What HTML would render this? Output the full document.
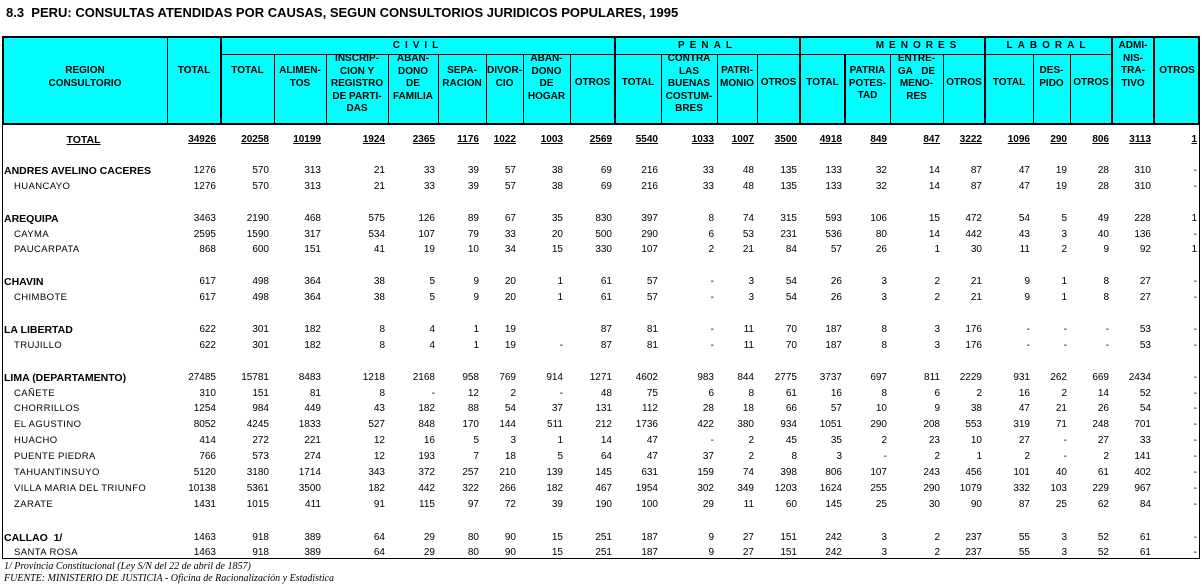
<!DOCTYPE html>
<html><head><meta charset="utf-8"><style>
*{margin:0;padding:0;box-sizing:border-box}
body{width:1203px;height:588px;background:#fff;position:relative;overflow:hidden;font-family:"Liberation Sans",Arial,sans-serif;color:#000}
.t{position:absolute;left:6px;top:5px;font-size:13px;font-weight:bold;white-space:nowrap;letter-spacing:0px}
.hd{position:absolute;left:2px;top:36px;width:1198px;height:89px;background:#0ff;border:2px solid #000}
.v{position:absolute;background:#000;width:1px}
.vt{width:2px}
.h{position:absolute;background:#000;height:1px}
.c{position:absolute;text-align:center;font-weight:bold;font-size:10px;line-height:12.5px;white-space:nowrap}
.g{position:absolute;top:37px;height:17px;display:flex;align-items:center;justify-content:center;font-weight:bold;font-size:10px;letter-spacing:5px}
.r{position:absolute;left:3px;height:16px;display:grid;grid-template-columns:164px 54px 53px 52px 62px 50px 48px 37px 47px 45px 46px 56px 40px 43px 45px 45px 53px 42px 48px 37px 42px 42px 46px;font-size:10px;line-height:16px}
.r span{text-align:right;padding-right:3px;white-space:nowrap}
.r span:first-child{text-align:left;padding-left:11px;font-size:9.5px;letter-spacing:0.4px}
.r span:nth-child(2),.r span:nth-child(3),.r span:nth-child(4){padding-right:5px}
.r span:nth-child(7),.r span:nth-child(8),.r span:nth-child(9){padding-right:7px}
.b span:first-child{padding-left:1px;font-weight:bold;font-size:10.5px;letter-spacing:0}
.tot{font-weight:bold}
.tot span{text-decoration:underline}
.tot span:first-child{text-align:center;padding-left:0;font-size:10.5px;letter-spacing:0}
.f{position:absolute;left:4px;font-family:"Liberation Serif",serif;font-style:italic;font-size:10px;white-space:nowrap}
</style></head><body>
<div class="t">8.3&nbsp; PERU: CONSULTAS ATENDIDAS POR CAUSAS, SEGUN CONSULTORIOS JURIDICOS POPULARES, 1995</div>
<div class="hd"></div>
<div class="h" style="left:221px;top:54px;width:891px"></div>
<div class="v" style="left:167px;top:36px;height:89px"></div>
<div class="v vt" style="left:220px;top:36px;height:89px"></div>
<div class="v vt" style="left:614px;top:36px;height:89px"></div>
<div class="v vt" style="left:799px;top:36px;height:89px"></div>
<div class="v vt" style="left:984px;top:36px;height:89px"></div>
<div class="v vt" style="left:1111px;top:36px;height:89px"></div>
<div class="v vt" style="left:1153px;top:36px;height:89px"></div>
<div class="v" style="left:274px;top:54px;height:70px"></div>
<div class="v" style="left:326px;top:54px;height:70px"></div>
<div class="v" style="left:388px;top:54px;height:70px"></div>
<div class="v" style="left:438px;top:54px;height:70px"></div>
<div class="v" style="left:486px;top:54px;height:70px"></div>
<div class="v" style="left:523px;top:54px;height:70px"></div>
<div class="v" style="left:570px;top:54px;height:70px"></div>
<div class="v" style="left:661px;top:54px;height:70px"></div>
<div class="v" style="left:717px;top:54px;height:70px"></div>
<div class="v" style="left:757px;top:54px;height:70px"></div>
<div class="v vt" style="left:844px;top:54px;height:70px"></div>
<div class="v" style="left:890px;top:54px;height:70px"></div>
<div class="v" style="left:943px;top:54px;height:70px"></div>
<div class="v" style="left:1033px;top:54px;height:70px"></div>
<div class="v" style="left:1070px;top:54px;height:70px"></div>

<div class="g" style="left:221px;width:394px">CIVIL</div>
<div class="g" style="left:615px;width:185px">PENAL</div>
<div class="g" style="left:800px;width:185px;padding-left:52px">MENORES</div>
<div class="g" style="left:985px;width:127px">LABORAL</div>

<div class="c" style="left:3px;top:65px;width:164px">REGION<br>CONSULTORIO</div>
<div class="c" style="left:167px;top:65px;width:54px">TOTAL</div>
<div class="c" style="left:221px;top:65px;width:53px">TOTAL</div>
<div class="c" style="left:274px;top:65px;width:52px">ALIMEN-<br>TOS</div>
<div class="c" style="left:326px;top:53px;width:62px">INSCRIP-<br>CION Y<br>REGISTRO<br>DE PARTI-<br>DAS</div>
<div class="c" style="left:388px;top:53px;width:50px">ABAN-<br>DONO<br>DE<br>FAMILIA</div>
<div class="c" style="left:438px;top:65px;width:48px">SEPA-<br>RACION</div>
<div class="c" style="left:486px;top:65px;width:37px">DIVOR-<br>CIO</div>
<div class="c" style="left:523px;top:53px;width:47px">ABAN-<br>DONO<br>DE<br>HOGAR</div>
<div class="c" style="left:570px;top:77px;width:45px">OTROS</div>
<div class="c" style="left:615px;top:77px;width:46px">TOTAL</div>
<div class="c" style="left:661px;top:53px;width:56px">CONTRA<br>LAS<br>BUENAS<br>COSTUM-<br>BRES</div>
<div class="c" style="left:717px;top:65px;width:40px">PATRI-<br>MONIO</div>
<div class="c" style="left:757px;top:77px;width:43px">OTROS</div>
<div class="c" style="left:800px;top:77px;width:45px">TOTAL</div>
<div class="c" style="left:845px;top:65px;width:45px">PATRIA<br>POTES-<br>TAD</div>
<div class="c" style="left:890px;top:53px;width:53px">ENTRE-<br>GA&nbsp;&nbsp;&nbsp;DE<br>MENO-<br>RES</div>
<div class="c" style="left:943px;top:77px;width:42px">OTROS</div>
<div class="c" style="left:985px;top:77px;width:48px">TOTAL</div>
<div class="c" style="left:1033px;top:65px;width:37px">DES-<br>PIDO</div>
<div class="c" style="left:1070px;top:77px;width:42px">OTROS</div>
<div class="c" style="left:1112px;top:40px;width:42px">ADMI-<br>NIS-<br>TRA-<br>TIVO</div>
<div class="c" style="left:1154px;top:65px;width:46px">OTROS</div>

<div class="v" style="left:2px;top:124px;height:435px"></div>
<div class="v" style="left:1199px;top:124px;height:435px"></div>
<div class="h" style="left:2px;top:558px;width:1198px"></div>

<div class="r tot" style="top:132px"><span>TOTAL</span><span>34926</span><span>20258</span><span>10199</span><span>1924</span><span>2365</span><span>1176</span><span>1022</span><span>1003</span><span>2569</span><span>5540</span><span>1033</span><span>1007</span><span>3500</span><span>4918</span><span>849</span><span>847</span><span>3222</span><span>1096</span><span>290</span><span>806</span><span>3113</span><span>1</span></div>
<div class="r b" style="top:163px"><span>ANDRES AVELINO CACERES</span><span>1276</span><span>570</span><span>313</span><span>21</span><span>33</span><span>39</span><span>57</span><span>38</span><span>69</span><span>216</span><span>33</span><span>48</span><span>135</span><span>133</span><span>32</span><span>14</span><span>87</span><span>47</span><span>19</span><span>28</span><span>310</span><span>-</span></div>
<div class="r" style="top:179px"><span>HUANCAYO</span><span>1276</span><span>570</span><span>313</span><span>21</span><span>33</span><span>39</span><span>57</span><span>38</span><span>69</span><span>216</span><span>33</span><span>48</span><span>135</span><span>133</span><span>32</span><span>14</span><span>87</span><span>47</span><span>19</span><span>28</span><span>310</span><span>-</span></div>
<div class="r b" style="top:211px"><span>AREQUIPA</span><span>3463</span><span>2190</span><span>468</span><span>575</span><span>126</span><span>89</span><span>67</span><span>35</span><span>830</span><span>397</span><span>8</span><span>74</span><span>315</span><span>593</span><span>106</span><span>15</span><span>472</span><span>54</span><span>5</span><span>49</span><span>228</span><span>1</span></div>
<div class="r" style="top:227px"><span>CAYMA</span><span>2595</span><span>1590</span><span>317</span><span>534</span><span>107</span><span>79</span><span>33</span><span>20</span><span>500</span><span>290</span><span>6</span><span>53</span><span>231</span><span>536</span><span>80</span><span>14</span><span>442</span><span>43</span><span>3</span><span>40</span><span>136</span><span>-</span></div>
<div class="r" style="top:242px"><span>PAUCARPATA</span><span>868</span><span>600</span><span>151</span><span>41</span><span>19</span><span>10</span><span>34</span><span>15</span><span>330</span><span>107</span><span>2</span><span>21</span><span>84</span><span>57</span><span>26</span><span>1</span><span>30</span><span>11</span><span>2</span><span>9</span><span>92</span><span>1</span></div>
<div class="r b" style="top:274px"><span>CHAVIN</span><span>617</span><span>498</span><span>364</span><span>38</span><span>5</span><span>9</span><span>20</span><span>1</span><span>61</span><span>57</span><span>-</span><span>3</span><span>54</span><span>26</span><span>3</span><span>2</span><span>21</span><span>9</span><span>1</span><span>8</span><span>27</span><span>-</span></div>
<div class="r" style="top:290px"><span>CHIMBOTE</span><span>617</span><span>498</span><span>364</span><span>38</span><span>5</span><span>9</span><span>20</span><span>1</span><span>61</span><span>57</span><span>-</span><span>3</span><span>54</span><span>26</span><span>3</span><span>2</span><span>21</span><span>9</span><span>1</span><span>8</span><span>27</span><span>-</span></div>
<div class="r b" style="top:322px"><span>LA LIBERTAD</span><span>622</span><span>301</span><span>182</span><span>8</span><span>4</span><span>1</span><span>19</span><span></span><span>87</span><span>81</span><span>-</span><span>11</span><span>70</span><span>187</span><span>8</span><span>3</span><span>176</span><span>-</span><span>-</span><span>-</span><span>53</span><span>-</span></div>
<div class="r" style="top:338px"><span>TRUJILLO</span><span>622</span><span>301</span><span>182</span><span>8</span><span>4</span><span>1</span><span>19</span><span>-</span><span>87</span><span>81</span><span>-</span><span>11</span><span>70</span><span>187</span><span>8</span><span>3</span><span>176</span><span>-</span><span>-</span><span>-</span><span>53</span><span>-</span></div>
<div class="r b" style="top:370px"><span>LIMA (DEPARTAMENTO)</span><span>27485</span><span>15781</span><span>8483</span><span>1218</span><span>2168</span><span>958</span><span>769</span><span>914</span><span>1271</span><span>4602</span><span>983</span><span>844</span><span>2775</span><span>3737</span><span>697</span><span>811</span><span>2229</span><span>931</span><span>262</span><span>669</span><span>2434</span><span>-</span></div>
<div class="r" style="top:386px"><span>CAÑETE</span><span>310</span><span>151</span><span>81</span><span>8</span><span>-</span><span>12</span><span>2</span><span>-</span><span>48</span><span>75</span><span>6</span><span>8</span><span>61</span><span>16</span><span>8</span><span>6</span><span>2</span><span>16</span><span>2</span><span>14</span><span>52</span><span>-</span></div>
<div class="r" style="top:401px"><span>CHORRILLOS</span><span>1254</span><span>984</span><span>449</span><span>43</span><span>182</span><span>88</span><span>54</span><span>37</span><span>131</span><span>112</span><span>28</span><span>18</span><span>66</span><span>57</span><span>10</span><span>9</span><span>38</span><span>47</span><span>21</span><span>26</span><span>54</span><span>-</span></div>
<div class="r" style="top:417px"><span>EL AGUSTINO</span><span>8052</span><span>4245</span><span>1833</span><span>527</span><span>848</span><span>170</span><span>144</span><span>511</span><span>212</span><span>1736</span><span>422</span><span>380</span><span>934</span><span>1051</span><span>290</span><span>208</span><span>553</span><span>319</span><span>71</span><span>248</span><span>701</span><span>-</span></div>
<div class="r" style="top:433px"><span>HUACHO</span><span>414</span><span>272</span><span>221</span><span>12</span><span>16</span><span>5</span><span>3</span><span>1</span><span>14</span><span>47</span><span>-</span><span>2</span><span>45</span><span>35</span><span>2</span><span>23</span><span>10</span><span>27</span><span>-</span><span>27</span><span>33</span><span>-</span></div>
<div class="r" style="top:449px"><span>PUENTE PIEDRA</span><span>766</span><span>573</span><span>274</span><span>12</span><span>193</span><span>7</span><span>18</span><span>5</span><span>64</span><span>47</span><span>37</span><span>2</span><span>8</span><span>3</span><span>-</span><span>2</span><span>1</span><span>2</span><span>-</span><span>2</span><span>141</span><span>-</span></div>
<div class="r" style="top:465px"><span>TAHUANTINSUYO</span><span>5120</span><span>3180</span><span>1714</span><span>343</span><span>372</span><span>257</span><span>210</span><span>139</span><span>145</span><span>631</span><span>159</span><span>74</span><span>398</span><span>806</span><span>107</span><span>243</span><span>456</span><span>101</span><span>40</span><span>61</span><span>402</span><span>-</span></div>
<div class="r" style="top:481px"><span>VILLA MARIA DEL TRIUNFO</span><span>10138</span><span>5361</span><span>3500</span><span>182</span><span>442</span><span>322</span><span>266</span><span>182</span><span>467</span><span>1954</span><span>302</span><span>349</span><span>1203</span><span>1624</span><span>255</span><span>290</span><span>1079</span><span>332</span><span>103</span><span>229</span><span>967</span><span>-</span></div>
<div class="r" style="top:497px"><span>ZARATE</span><span>1431</span><span>1015</span><span>411</span><span>91</span><span>115</span><span>97</span><span>72</span><span>39</span><span>190</span><span>100</span><span>29</span><span>11</span><span>60</span><span>145</span><span>25</span><span>30</span><span>90</span><span>87</span><span>25</span><span>62</span><span>84</span><span>-</span></div>
<div class="r b" style="top:530px"><span>CALLAO&nbsp; 1/</span><span>1463</span><span>918</span><span>389</span><span>64</span><span>29</span><span>80</span><span>90</span><span>15</span><span>251</span><span>187</span><span>9</span><span>27</span><span>151</span><span>242</span><span>3</span><span>2</span><span>237</span><span>55</span><span>3</span><span>52</span><span>61</span><span>-</span></div>
<div class="r" style="top:545px"><span>SANTA ROSA</span><span>1463</span><span>918</span><span>389</span><span>64</span><span>29</span><span>80</span><span>90</span><span>15</span><span>251</span><span>187</span><span>9</span><span>27</span><span>151</span><span>242</span><span>3</span><span>2</span><span>237</span><span>55</span><span>3</span><span>52</span><span>61</span><span>-</span></div>

<div class="f" style="top:561px">1/ Provincia Constitucional (Ley S/N del 22 de abril de 1857)</div>
<div class="f" style="top:573px">FUENTE: MINISTERIO DE JUSTICIA - Oficina de Racionalización y Estadística</div>
</body></html>
